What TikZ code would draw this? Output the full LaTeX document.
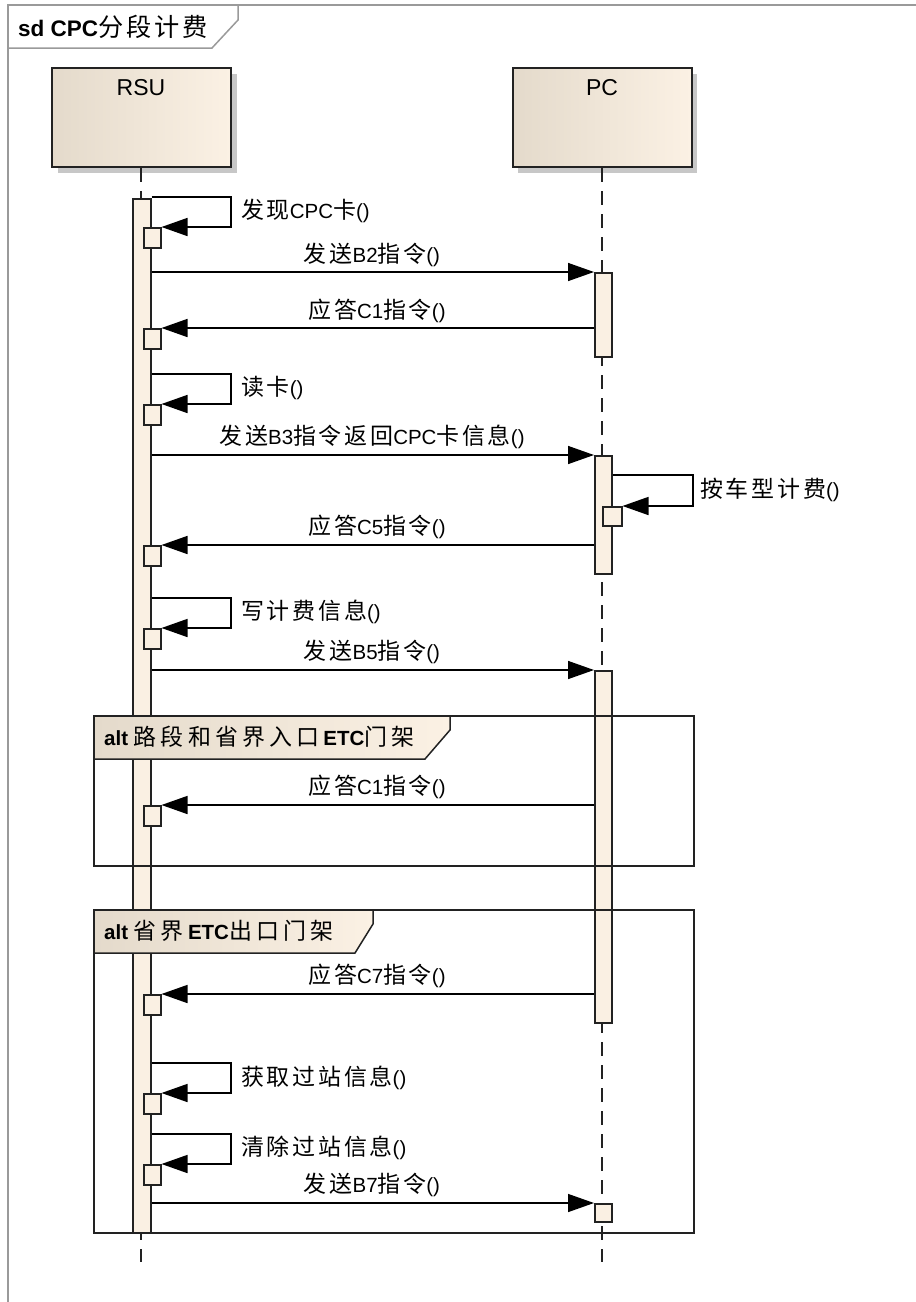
\documentclass[tikz,border=0pt]{standalone}
\usepackage{fontspec}
\setmainfont{Liberation Sans}
\newfontfamily\cjk[Scale=1.12,LetterSpace=12]{Noto Sans CJK SC}
\newfontfamily\cjkw[Scale=1.12,LetterSpace=18]{Noto Sans CJK SC}
\usetikzlibrary{arrows.meta}
\newcommand{\zh}[1]{{\cjk #1}}
\newcommand{\zhw}[1]{{\cjkw #1}}
\definecolor{barfill}{HTML}{FAF0E3}
\definecolor{hdrL}{HTML}{E4DACB}
\definecolor{hdrR}{HTML}{FBF1E4}
\definecolor{edge}{HTML}{222222}
\definecolor{framegray}{HTML}{9A9A9A}
\begin{document}
\begin{tikzpicture}[x=1pt,y=-1pt,
  lab/.style={font=\fontsize{20.5}{24}\selectfont, inner sep=0pt},
  life/.style={draw=edge,line width=2pt,left color=hdrL,right color=hdrR,minimum width=179pt,minimum height=99pt,inner sep=0pt},
  lifeline/.style={draw=edge,line width=1.6pt,dash pattern=on 14pt off 9pt},
  bar/.style={draw=edge,line width=1.5pt,fill=barfill,inner sep=0pt,anchor=north west,minimum width=18pt},
  smallbox/.style={draw=edge,line width=1.5pt,fill=barfill,inner sep=0pt,anchor=north west,minimum width=17pt,minimum height=20pt},
  msg/.style={draw=black,line width=1.5pt,-{Triangle[length=26pt,width=18pt]}},
  altframe/.style={draw=edge,line width=2pt},
  althead/.style={draw=edge,line width=1.5pt,left color=hdrL,right color=hdrR},
]
\useasboundingbox (0,0) rectangle (916,1302);
\fill[white] (0,0) rectangle (916,1302);
% outer frame
\draw[framegray,line width=2pt] (8,1302) -- (8,5) -- (916,5);
\draw[framegray,line width=1.5pt] (238,5) -- (238,20) -- (212,48) -- (8,48);
\node[anchor=west,inner sep=0pt,font=\fontsize{22.5}{26}\selectfont] (title) at (18,27) {\textbf{sd CPC}\zh{分段计费}};

% lifeline heads
\fill[black!22] (58,74) rectangle (237,173);
\node[life] (rsu) at (141,117.5) {};
\node[inner sep=0pt,font=\fontsize{23}{26}\selectfont] (rsut) at (141,88) {RSU};
\fill[black!22] (518,74) rectangle (697,173);
\node[life] (pc) at (602,117.5) {};
\node[inner sep=0pt,font=\fontsize{23}{26}\selectfont] (pct) at (602,88) {PC};

\coordinate (rend) at (141,1262);
\coordinate (pend) at (602,1262);
\draw[lifeline] (rsu.south) -- (rend);
\draw[lifeline] (pc.south) -- (pend);

% activation bars
\node[bar,minimum height=1034pt] (rb) at (132,198) {};
\node[bar,minimum width=17pt,minimum height=84pt] (pb1) at (594,272) {};
\node[bar,minimum width=17pt,minimum height=118pt] (pb2) at (594,455) {};
\node[bar,minimum width=17pt,minimum height=352pt] (pb3) at (594,670) {};

% alt frames
\draw[altframe] (94,716) rectangle (694,866);
\draw[althead] (94,716) -- (450,716) -- (450,730) -- (425,759) -- (94,759) -- cycle;
\node[lab,anchor=west] (alt1) at (104,737) {\textbf{alt} \zhw{路段和省界入口}\textbf{ETC}\zhw{门架}};
\draw[altframe] (94,910) rectangle (694,1233);
\draw[althead] (94,910) -- (373,910) -- (373,924) -- (355,953) -- (94,953) -- cycle;
\node[lab,anchor=west] (alt2) at (104,931) {\textbf{alt} \zhw{省界}\textbf{ETC}\zhw{出口门架}};

% execution boxes
\node[smallbox] (s1) at (143,227) {};
\node[smallbox] (s2) at (143,328) {};
\node[smallbox] (s3) at (143,404) {};
\node[smallbox] (s4) at (143,545) {};
\node[smallbox] (s5) at (143,628) {};
\node[smallbox] (s6) at (143,805) {};
\node[smallbox] (s7) at (143,994) {};
\node[smallbox] (s8) at (143,1093) {};
\node[smallbox] (s9) at (143,1164) {};
\node[smallbox,minimum width=19pt,minimum height=19pt] (ps) at (602,506) {};
\node[smallbox,minimum height=18pt] (pe) at (594,1203) {};

% messages
\draw[msg] (rb.east |- 0,197) -- (231,197) -- (231,227) -- (s1.north east);
\node[lab,anchor=west] (l1) at (241,211) {\zh{发现}CPC\zh{卡}()};

\draw[msg] (rb.east |- 0,272) -- (pb1.north west);
\node[lab] (l2) at (372,255) {\zh{发送}B2\zh{指令}()};

\draw[msg] (pb1.west |- 0,328) -- (s2.north east);
\node[lab] (l3) at (377,311) {\zh{应答}C1\zh{指令}()};

\draw[msg] (rb.east |- 0,374) -- (231,374) -- (231,404) -- (s3.north east);
\node[lab,anchor=west] (l4) at (241,388) {\zh{读卡}()};

\draw[msg] (rb.east |- 0,455) -- (pb2.north west);
\node[lab] (l5) at (372,437) {\zh{发送}B3\zh{指令返回}CPC\zh{卡信息}()};

\draw[msg] (pb2.east |- 0,475) -- (693,475) -- (693,506) -- (ps.north east);
\node[lab,anchor=west] (l6) at (700,490) {\zh{按车型计费}()};

\draw[msg] (pb2.west |- 0,545) -- (s4.north east);
\node[lab] (l7) at (377,527) {\zh{应答}C5\zh{指令}()};

\draw[msg] (rb.east |- 0,598) -- (231,598) -- (231,628) -- (s5.north east);
\node[lab,anchor=west] (l8) at (241,612) {\zh{写计费信息}()};

\draw[msg] (rb.east |- 0,670) -- (pb3.north west);
\node[lab] (l9) at (372,652) {\zh{发送}B5\zh{指令}()};

\draw[msg] (pb3.west |- 0,805) -- (s6.north east);
\node[lab] (l10) at (377,787) {\zh{应答}C1\zh{指令}()};

\draw[msg] (pb3.west |- 0,994) -- (s7.north east);
\node[lab] (l11) at (377,976) {\zh{应答}C7\zh{指令}()};

\draw[msg] (rb.east |- 0,1063) -- (231,1063) -- (231,1093) -- (s8.north east);
\node[lab,anchor=west] (l12) at (241,1078) {\zh{获取过站信息}()};

\draw[msg] (rb.east |- 0,1134) -- (231,1134) -- (231,1164) -- (s9.north east);
\node[lab,anchor=west] (l13) at (241,1148) {\zh{清除过站信息}()};

\draw[msg] (rb.east |- 0,1203) -- (pe.north west);
\node[lab] (l14) at (372,1185) {\zh{发送}B7\zh{指令}()};
\end{tikzpicture}
\end{document}
